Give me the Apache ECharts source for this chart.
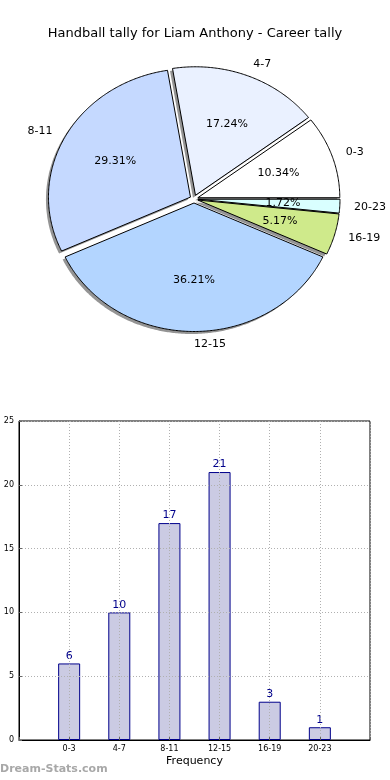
<!DOCTYPE html>
<html>
<head>
<meta charset="utf-8">
<script src="https://cdn.jsdelivr.net/npm/echarts@6/dist/echarts.min.js"></script>
<style>
html,body{margin:0;padding:0;background:#fff;}
#chart{width:390px;height:780px;}
</style>
</head>
<body>
<div id="chart"></div>
<script>
const categories = ['0-3', '4-7', '8-11', '12-15', '16-19', '20-23'];
const counts = [6, 10, 17, 21, 3, 1];
const pieColors = ['#ffffff', '#eaf1ff', '#c5d9ff', '#b3d5ff', '#cfea8b', '#d9ffff'];
const yTicks = [0, 5, 10, 15, 20, 25];

const total = counts.reduce((a, b) => a + b, 0);
const cumStart = [];
counts.reduce((acc, v, i) => { cumStart[i] = acc; return acc + v; }, 0);

const PIE = { cx: 194, cy: 199, rx: 142, ry: 128.5, explode: 4 };
const FONT = 'DejaVu Sans';

function sliceGeom(i, v) {
  const a0 = cumStart[i] / total * Math.PI * 2;
  const a1 = a0 + v / total * Math.PI * 2;
  const mid = (a0 + a1) / 2;
  const cx = PIE.cx + PIE.explode * Math.cos(mid);
  const cy = PIE.cy - PIE.explode * Math.sin(mid);
  const pts = [[cx, cy]];
  const n = Math.max(4, Math.ceil((a1 - a0) / 0.01));
  for (let k = 0; k <= n; k++) {
    const t = a0 + (a1 - a0) * k / n;
    pts.push([cx + PIE.rx * Math.cos(t), cy - PIE.ry * Math.sin(t)]);
  }
  return { pts, mid, cx, cy };
}

const pieData = categories.map((c, i) => [i, counts[i]]);

const chart = echarts.init(document.getElementById('chart'), null, { renderer: 'canvas' });

chart.setOption({
  animation: false,
  title: {
    text: 'Handball tally for Liam Anthony - Career tally',
    left: 'center', top: 22,
    textStyle: { fontFamily: FONT, fontSize: 13, fontWeight: 'normal', color: '#000' }
  },
  graphic: [{
    type: 'text', left: 0, top: 764,
    style: { text: 'Dream-Stats.com', fontFamily: FONT, fontSize: 11, fontWeight: 'bold', fill: '#a8a8a8' }
  }],
  grid: { left: 19, right: 20, top: 421, bottom: 40, containLabel: false, outerBoundsMode: 'none',
    show: true, borderColor: '#000', borderWidth: 1, backgroundColor: 'transparent' },
  xAxis: {
    type: 'value', min: -1, max: 6, interval: 1, z: 5,
    name: 'Frequency', nameLocation: 'middle', nameGap: 16,
    nameTextStyle: { fontFamily: FONT, fontSize: 11, color: '#000' },
    axisLine: { show: true, onZero: false, lineStyle: { color: '#000' } },
    axisTick: { show: true, inside: true, length: 3, lineStyle: { color: '#666' } },
    axisLabel: {
      fontFamily: FONT, fontSize: 8, color: '#000', margin: 5,
      formatter: v => (categories[v] !== undefined ? categories[v] : '')
    },
    splitLine: { show: true, lineStyle: { type: [1, 2], color: '#b0b0b0' } }
  },
  yAxis: {
    type: 'value', min: 0, max: 25, interval: 5, z: 5,
    name: 'Occurrences', nameLocation: 'middle', nameGap: 17,
    nameTextStyle: { fontFamily: FONT, fontSize: 11, color: '#000' },
    axisLine: { show: true, onZero: false, lineStyle: { color: '#000' } },
    axisTick: { show: true, inside: true, length: 3, lineStyle: { color: '#666' } },
    axisLabel: { fontFamily: FONT, fontSize: 8, color: '#000', margin: 5,
      formatter: v => (yTicks.indexOf(v) >= 0 ? String(v) : '') },
    splitLine: { show: true, lineStyle: { type: [1, 2], color: '#b0b0b0' } }
  },
  series: [
    {
      type: 'bar',
      data: categories.map((c, i) => [i, counts[i]]),
      barWidth: 22,
      z: 2,
      itemStyle: { color: '#cbcbe3', borderColor: '#00008b', borderWidth: 1 },
      label: { show: true, position: 'top', distance: 2, fontFamily: FONT, fontSize: 11, color: '#00008b',
        formatter: p => String(p.value[1]) }
    },
    {
      type: 'custom', coordinateSystem: 'none', z: 1, silent: true,
      data: pieData,
      renderItem: (params, api) => {
        const i = api.value(0), v = api.value(1);
        const g = sliceGeom(i, v);
        return {
          type: 'polygon', x: -2.5, y: 2.5,
          shape: { points: g.pts },
          style: { fill: 'rgba(60,60,60,0.55)' }
        };
      }
    },
    {
      type: 'custom', coordinateSystem: 'none', z: 3, silent: true,
      data: pieData,
      renderItem: (params, api) => {
        const i = api.value(0), v = api.value(1);
        const g = sliceGeom(i, v);
        const c = Math.cos(g.mid), s = Math.sin(g.mid);
        const pct = (v / total * 100).toFixed(2) + '%';
        return {
          type: 'group',
          children: [
            {
              type: 'polygon', shape: { points: g.pts },
              style: { fill: pieColors[i], stroke: '#000', lineWidth: 1 }
            },
            {
              type: 'text', z2: 10,
              style: {
                x: g.cx + 0.6 * PIE.rx * c, y: g.cy - 0.6 * PIE.ry * s,
                text: pct, align: 'center', verticalAlign: 'middle',
                font: '11px "' + FONT + '"', fill: '#000'
              }
            },
            {
              type: 'text', z2: 10,
              style: {
                x: g.cx + 1.1 * PIE.rx * c, y: g.cy - 1.1 * PIE.ry * s,
                text: categories[i], align: c > -1e-6 ? 'left' : 'right', verticalAlign: 'middle',
                font: '11px "' + FONT + '"', fill: '#000'
              }
            }
          ]
        };
      }
    }
  ]
});
</script>
</body>
</html>
